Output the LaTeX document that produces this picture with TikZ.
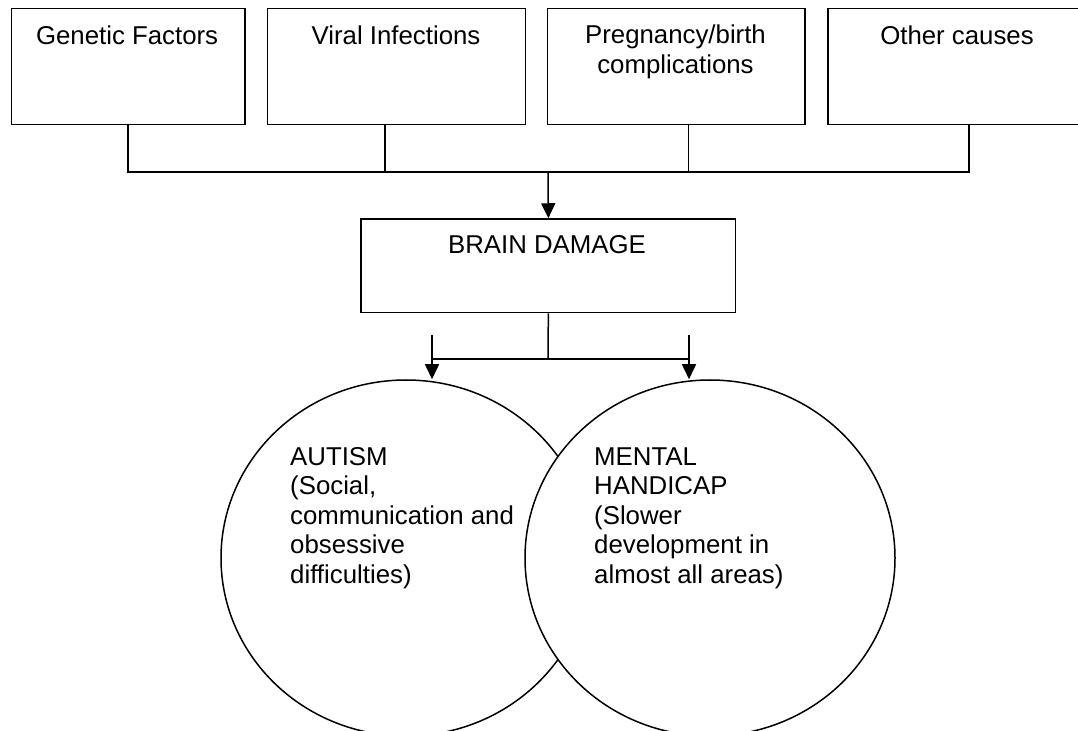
\documentclass[tikz,border=0pt]{standalone}
\usepackage{fontspec}
\setmainfont{Liberation Sans}
\usetikzlibrary{arrows.meta,shapes.geometric}
\tikzset{
  box/.style={draw, line width=1.5bp, rectangle, inner sep=0pt, fill=white},
  circ/.style={draw, line width=1.5bp, ellipse, inner sep=0pt, minimum width=370bp, minimum height=356bp},
  conn/.style={line width=1.5bp},
  arr/.style={line width=1.5bp, -{Triangle[length=15bp,width=14bp]}},
  txt/.style={inner sep=0pt, font=\fontsize{25.9pt}{29.7pt}\selectfont}
}
\begin{document}
\begin{tikzpicture}[x=1bp,y=-1bp]
\clip (0,0) rectangle (1078,731);
\fill[white] (0,0) rectangle (1078,731);
% top boxes
\node[box, minimum width=233.6bp, minimum height=116.2bp] (G) at (128.2,66.4) {};
\node[box, minimum width=258bp, minimum height=116.2bp] (V) at (396.7,66.4) {};
\node[box, minimum width=257.5bp, minimum height=116.2bp] (P) at (676.25,66.4) {};
\node[box, minimum width=258bp, minimum height=116.2bp] (O) at (957,66.4) {};
% brain damage box
\node[box, minimum width=374.7bp, minimum height=93.7bp] (B) at (548.35,265.85) {};
% circles
\node[circ] (A) at (406,558) {};
\node[circ, fill=white] (M) at (710,558) {};
% connector points
\coordinate (vs) at (385,124.5);
\coordinate (ps) at (688.6,124.5);
\coordinate (os) at (969,124.5);
\coordinate (bus) at (548,172);
\coordinate (split) at (548,359);
\coordinate (sL) at (432,335);
\coordinate (sR) at (689,335);
% top bus
\draw[conn] (G.south) |- (os |- bus) -- (os);
\draw[conn] (vs) -- (vs |- bus);
\draw[conn] (ps) -- (ps |- bus);
\draw[arr] (bus) -- (B.north);
% bottom split
\draw[conn] (B.south) -- (split);
\draw[conn] (sL |- split) -- (sR |- split);
\draw[arr] (sL) -- (sL |- A.north);
\draw[arr] (sR) -- (sR |- M.north);
% texts
\node[txt, anchor=base] (tG) at (127.1,44.3) {Genetic Factors};
\node[txt, anchor=base] (tV) at (396,44.3) {Viral Infections};
\node[txt, anchor=base] (tP) at (675.5,43.5) {\parbox[t]{250bp}{\centering Pregnancy/birth\\complications}};
\node[txt, anchor=base] (tO) at (957,44.3) {Other causes};
\node[txt, anchor=base] (tB) at (547,253.3) {BRAIN DAMAGE};
\node[txt, anchor=base west] (tA) at (290,465) {\parbox[t]{250bp}{\raggedright AUTISM\\(Social,\\communication and\\obsessive\\difficulties)}};
\node[txt, anchor=base west] (tM) at (594,465) {\parbox[t]{250bp}{\raggedright MENTAL\\HANDICAP\\(Slower\\development in\\almost all areas)}};
\end{tikzpicture}
\end{document}
